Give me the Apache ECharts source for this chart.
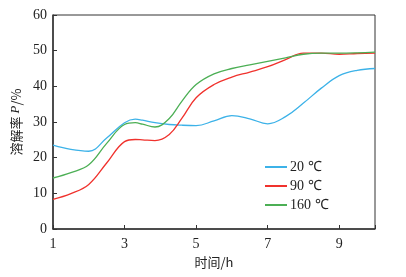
<!DOCTYPE html>
<html><head><meta charset="utf-8">
<script src="https://cdn.jsdelivr.net/npm/echarts@6/dist/echarts.min.js"></script>
<style>html,body{margin:0;padding:0;background:#fff}#c{width:406px;height:277px}</style>
</head><body><div id="c"></div>
<script>
const xs = [1, 1.5, 2, 2.5, 3, 3.3, 3.5, 3.85, 4.25, 4.6, 5, 5.5, 6, 6.5, 7, 7.5, 8, 8.5, 9, 9.5, 10];
const s20  = [23.5, 22.3, 21.8, 25.5, 29.8, 30.8, 30.5, 29.8, 29.3, 29.1, 29.0, 30.3, 31.8, 30.9, 29.5, 31.5, 35.3, 39.5, 43.0, 44.5, 45.0];
const s90  = [8.3, 9.9, 12.5, 18.5, 24.5, 25.1, 25.0, 24.8, 26.5, 31.0, 36.8, 40.5, 42.6, 44.0, 45.5, 47.5, 49.3, 49.3, 49.0, 49.2, 49.3];
const s160 = [14.3, 15.8, 18.0, 24.0, 29.3, 29.8, 29.4, 28.6, 31.0, 35.8, 40.5, 43.5, 45.0, 46.0, 47.0, 48.0, 49.0, 49.3, 49.3, 49.4, 49.6];
const names = ['20 ℃', '90 ℃', '160 ℃'];
const colors = ['#3cb2e8', '#f0322d', '#4caf55'];
const xTicks = [1, 3, 5, 7, 9];

const chart = echarts.init(document.getElementById('c'));
const font = 'Liberation Serif, Times New Roman, serif';
const mk = (arr) => xs.map((x, i) => [x, arr[i]]);
chart.setOption({
  animation: false,
  grid: {left: 53, right: 31, top: 15, bottom: 48, show: true, borderColor: '#333', borderWidth: 1},
  legend: {
    orient: 'vertical', left: 260, top: 155, itemWidth: 22, itemHeight: 2, itemGap: 5,
    icon: 'rect', data: names,
    textStyle: {fontFamily: font, fontSize: 14, color: '#222', padding: [0,0,0,-2]}
  },
  xAxis: {
    type: 'value', min: 1, max: 10, interval: 2,
    axisLine: {lineStyle: {color: '#333', width: 1.5}},
    axisTick: {inside: true, length: 4, lineStyle: {color: '#333'}},
    axisLabel: {fontFamily: font, fontSize: 14, color: '#222', margin: 8,
      formatter: v => xTicks.includes(v) ? String(v) : ''},
    splitLine: {show: false},
    name: '时间/h', nameLocation: 'middle', nameGap: 27,
    nameTextStyle: {fontFamily: 'Noto Sans CJK SC, ' + font, fontSize: 13, color: '#222'}
  },
  yAxis: {
    type: 'value', min: 0, max: 60, interval: 10,
    axisLine: {lineStyle: {color: '#333', width: 1.5}},
    axisTick: {inside: true, length: 4, lineStyle: {color: '#333'}},
    axisLabel: {fontFamily: font, fontSize: 14, color: '#222', margin: 6},
    splitLine: {show: false},
    name: '溶解率 {i|P}/%', nameLocation: 'middle', nameGap: 28, nameRotate: 90,
    nameTextStyle: {fontFamily: 'Noto Sans CJK SC, ' + font, fontSize: 13, color: '#222',
      rich: {i: {fontFamily: font, fontStyle: 'italic', fontSize: 13, color: '#222'}}}
  },
  series: [s20, s90, s160].map((arr, k) => ({
    name: names[k], type: 'line', data: mk(arr), smooth: 0.4, showSymbol: false,
    lineStyle: {color: colors[k], width: 1.3}, itemStyle: {color: colors[k]}
  }))
});
</script></body></html>
